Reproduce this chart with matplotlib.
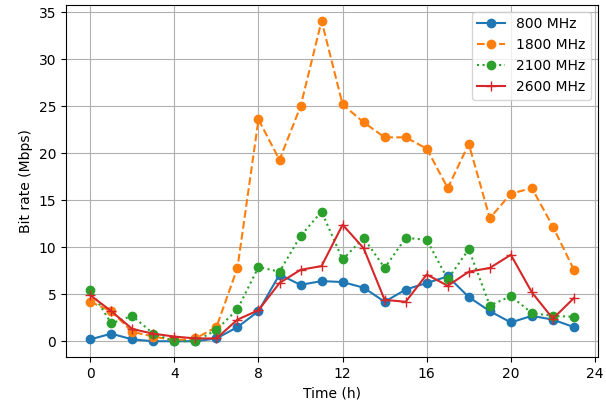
import matplotlib
matplotlib.use("Agg")
import matplotlib.pyplot as plt

hours = list(range(24))
mhz800 = [0.2, 0.8, 0.2, 0.0, 0.0, 0.0, 0.3, 1.5, 3.2, 7.1, 6.0, 6.4, 6.3, 5.7, 4.2, 5.5, 6.2, 6.9, 4.7, 3.2, 2.0, 2.7, 2.3, 1.5]
mhz1800 = [4.2, 3.2, 1.0, 0.5, 0.1, 0.3, 1.5, 7.8, 23.6, 19.3, 25.0, 34.1, 25.2, 23.3, 21.7, 21.7, 20.5, 16.3, 21.0, 13.1, 15.7, 16.3, 12.2, 7.6]
mhz2100 = [5.5, 1.9, 2.7, 0.8, 0.0, 0.0, 1.2, 3.4, 7.9, 7.4, 11.2, 13.8, 8.7, 11.0, 7.8, 11.0, 10.8, 6.6, 9.8, 3.8, 4.8, 3.0, 2.7, 2.6]
mhz2600 = [4.9, 3.2, 1.3, 0.8, 0.5, 0.3, 0.3, 2.3, 3.3, 6.2, 7.6, 8.0, 12.4, 9.9, 4.4, 4.2, 7.1, 5.9, 7.4, 7.8, 9.2, 5.2, 2.4, 4.6]

fig = plt.figure(figsize=(6.06, 4.05), dpi=100)
ax = fig.add_axes([0.109, 0.118, 0.878, 0.87])
ax.plot(hours, mhz800, "-o", color="#1f77b4", label="800 MHz")
ax.plot(hours, mhz1800, "--o", color="#ff7f0e", label="1800 MHz")
ax.plot(hours, mhz2100, ":o", color="#2ca02c", label="2100 MHz")
ax.plot(hours, mhz2600, "-+", color="#d62728", markersize=7, label="2600 MHz")
ax.set_xticks(range(0, 25, 4))
ax.set_xlim(-1.15, 24.15)
ax.set_ylim(-1.7, 35.8)
ax.set_xlabel("Time (h)")
ax.set_ylabel("Bit rate (Mbps)")
ax.grid(True)
ax.legend(loc="upper right")
fig.savefig("out.png")
